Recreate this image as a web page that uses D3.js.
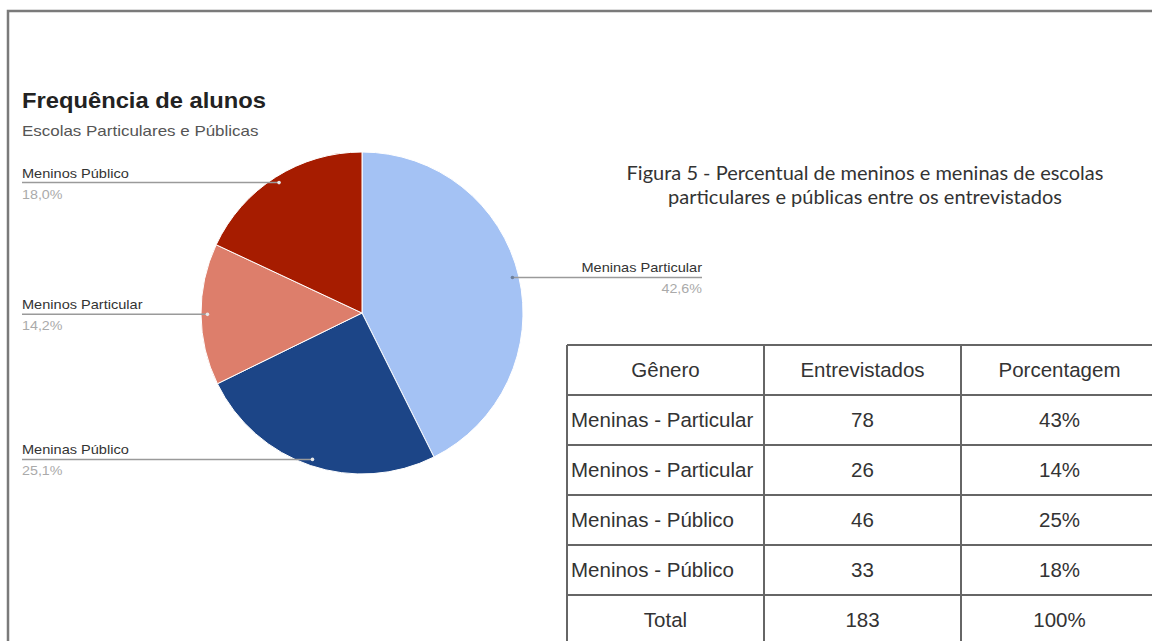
<!DOCTYPE html>
<html>
<head>
<meta charset="utf-8">
<script src="https://cdn.jsdelivr.net/npm/d3@7"></script>
<style>
  html, body { margin: 0; padding: 0; background: #fff; }
  svg { display: block; }
</style>
</head>
<body>
<svg id="chart" width="1152" height="641"></svg>
<script>
// Categories in clockwise order starting at 12 o'clock
const categories = ["Meninas Particular", "Meninas Público", "Meninos Particular", "Meninos Público"];
const counts = [78, 46, 26, 33];
const sliceColors = ["#a4c2f4", "#1c4587", "#dd7e6b", "#a61c00"];

// Table rows
const tableHeader = ["Gênero", "Entrevistados", "Porcentagem"];
const tableLabels = ["Meninas - Particular", "Meninos - Particular", "Meninas - Público", "Meninos - Público"];
const tableCounts = [78, 26, 46, 33];
const tableTotalLabel = "Total";

const title = "Frequência de alunos";
const subtitle = "Escolas Particulares e Públicas";
const captionLines = [
  "Figura 5 - Percentual de meninos e meninas de escolas",
  "particulares e públicas entre os entrevistados"
];

const svg = d3.select("#chart");
const ptBR = d3.formatLocale({ decimal: ",", thousands: ".", grouping: [3], currency: ["R$", ""] });
const pct1 = ptBR.format(".1%");
const sans = "Liberation Sans, Arial, sans-serif";

// Text helper with a horizontal stretch (anchor kept at x)
function stretchedText(x, y, str, size, sx, opts = {}) {
  return svg.append("text")
    .attr("transform", `translate(${x},${y}) scale(${sx},1)`)
    .attr("text-anchor", opts.anchor || "start")
    .attr("font-family", opts.family || sans)
    .attr("font-weight", opts.weight || "normal")
    .attr("font-size", size)
    .attr("fill", opts.fill || "#333")
    .text(str);
}

// Outer frame
svg.append("path")
  .attr("d", "M8,641 V11 H1152")
  .attr("fill", "none")
  .attr("stroke", "#7a7a7a")
  .attr("stroke-width", 2.5);

// Title block
stretchedText(22, 108, title, 22, 1.08, { weight: "bold", fill: "#222" });
stretchedText(22, 136, subtitle, 14.5, 1.17, { fill: "#555" });

// Pie
const cx = 362, cy = 313, R = 161;
const total = d3.sum(counts);
const pie = d3.pie().sort(null).value(d => d)(counts);
const arc = d3.arc().innerRadius(0).outerRadius(R);
const anchorArc = d3.arc().innerRadius(R * 0.96).outerRadius(R * 0.96);

const g = svg.append("g").attr("transform", `translate(${cx},${cy})`);
g.selectAll("path.slice").data(pie).join("path")
  .attr("class", "slice")
  .attr("d", arc)
  .attr("fill", (d, i) => sliceColors[i])
  .attr("stroke", "#fff").attr("stroke-width", 1);

// Leader lines and labels
pie.forEach((d, i) => {
  const [ax, ay] = anchorArc.centroid(d);
  const px = cx + ax, py = cy + ay;
  const mid = (d.startAngle + d.endAngle) / 2;
  const right = mid < Math.PI;
  const endX = right ? 702 : 22;
  svg.append("line")
    .attr("x1", px).attr("y1", py).attr("x2", endX).attr("y2", py)
    .attr("stroke", "#9a9a9a").attr("stroke-width", 1.5);
  svg.append("circle").attr("cx", px).attr("cy", py).attr("r", 1.8)
    .attr("fill", i === 0 ? "#6d7f9c" : "#e8e8e8");
  const anchor = right ? "end" : "start";
  stretchedText(endX, py - 5, categories[i], 13, 1.12, { anchor, fill: "#333" });
  stretchedText(endX, py + 16, pct1(d.value / total), 13, 1.1, { anchor, fill: "#aaa" });
});

// Caption
captionLines.forEach((line, i) => {
  svg.append("text")
    .attr("x", 865).attr("y", 180 + i * 24)
    .attr("text-anchor", "middle")
    .attr("font-family", "Lato, Open Sans, sans-serif")
    .attr("font-size", 20).attr("fill", "#333")
    .text(line);
});

// Table
const ty = 345, rowH = 50;
const colX = [567, 764, 961, 1158];
const tableTotal = d3.sum(tableCounts);
const pct0 = d3.format(".0%");
const rows = [tableHeader]
  .concat(tableLabels.map((l, i) => [l, String(tableCounts[i]), pct0(tableCounts[i] / tableTotal)]))
  .concat([[tableTotalLabel, String(tableTotal), pct0(1)]]);

const tg = svg.append("g");
d3.range(rows.length + 1).forEach(r => {
  tg.append("line")
    .attr("x1", colX[0]).attr("x2", colX[3])
    .attr("y1", ty + r * rowH).attr("y2", ty + r * rowH)
    .attr("stroke", "#666").attr("stroke-width", 2);
});
colX.forEach(x => {
  tg.append("line")
    .attr("x1", x).attr("x2", x)
    .attr("y1", ty).attr("y2", ty + rows.length * rowH)
    .attr("stroke", "#666").attr("stroke-width", 2);
});
rows.forEach((row, r) => {
  row.forEach((cell, c) => {
    const leftAligned = c === 0 && r > 0 && r < rows.length - 1;
    tg.append("text")
      .attr("x", leftAligned ? colX[0] + 4 : (colX[c] + colX[c + 1]) / 2)
      .attr("y", ty + r * rowH + 32)
      .attr("text-anchor", leftAligned ? "start" : "middle")
      .attr("font-family", sans)
      .attr("font-size", 20.5).attr("fill", "#333")
      .text(cell);
  });
});
</script>
</body>
</html>
